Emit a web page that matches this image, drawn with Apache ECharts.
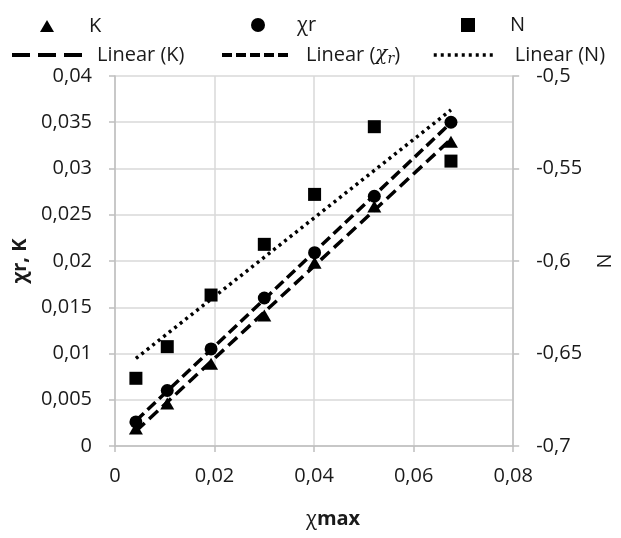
<!DOCTYPE html>
<html>
<head>
<meta charset="utf-8">
<script src="https://cdn.jsdelivr.net/npm/echarts@6/dist/echarts.min.js"></script>
<style>
html,body{margin:0;padding:0;background:#fff;}
#chart{width:621px;height:538px;}
</style>
</head>
<body>
<div id="chart"></div>
<script>
// ---- data ----
var chiMax = [0.0042, 0.0105, 0.0193, 0.0300, 0.0401, 0.0521, 0.0675];
var kValues = [0.0019, 0.0046, 0.0089, 0.0141, 0.0198, 0.0259, 0.0329];
var chiRValues = [0.0026, 0.0060, 0.0105, 0.0160, 0.0209, 0.0270, 0.0350];
var nValues = [-0.6634, -0.6463, -0.6184, -0.5910, -0.5640, -0.5274, -0.5460];
var xTicks = {min: 0, max: 0.08, interval: 0.02};
var leftTicks = {min: 0, max: 0.04, interval: 0.005};
var rightTicks = {min: -0.7, max: -0.5, interval: 0.05};

function pairs(xs, ys) { return xs.map(function (x, i) { return [x, ys[i]]; }); }
// least-squares linear trendline spanning the data range (like Excel "Linear" trendline)
function trend(xs, ys) {
  var n = xs.length, mx = 0, my = 0;
  for (var i = 0; i < n; i++) { mx += xs[i]; my += ys[i]; }
  mx /= n; my /= n;
  var sxy = 0, sxx = 0;
  for (var j = 0; j < n; j++) { sxy += (xs[j] - mx) * (ys[j] - my); sxx += (xs[j] - mx) * (xs[j] - mx); }
  var b = sxy / sxx, a = my - b * mx;
  var x0 = Math.min.apply(null, xs), x1 = Math.max.apply(null, xs);
  return [[x0, a + b * x0], [x1, a + b * x1]];
}
function fmt(v) { return String(parseFloat(Number(v).toFixed(4))).replace('.', ','); }

var FONT = 'Open Sans';
var TXT = '#1a1a1a';
var base = {fontFamily: FONT, fontSize: 20, color: TXT};

function legendItem(name, left, top, w, h, pad, extra) {
  var l = {
    data: [name], left: left, top: top, padding: 0, orient: 'horizontal',
    itemWidth: w, itemHeight: h, selectedMode: false,
    textStyle: Object.assign({}, base, {padding: [0, 0, 0, pad]})
  };
  return Object.assign(l, extra || {});
}
var hideSym = {color: 'rgba(0,0,0,0)', borderColor: 'rgba(0,0,0,0)', borderWidth: 0, opacity: 0};

var chart = echarts.init(document.getElementById('chart'), null, {renderer: 'canvas'});
chart.setOption({
  animation: false,
  backgroundColor: '#fff',
  textStyle: {fontFamily: FONT},
  title: {
    text: '{a|χ}{b|max}', left: 306, top: 509, padding: 0,
    textStyle: {fontWeight: 'normal', fontFamily: FONT, fontSize: 20, color: TXT, rich: {
      a: {fontFamily: FONT, fontSize: 20, fontWeight: 'normal', color: TXT},
      b: {fontFamily: FONT, fontSize: 20, fontWeight: 'bold', color: TXT}
    }}
  },
  legend: [
    legendItem('K', 40, 16, 14, 12, 30, {itemStyle: {color: '#000', opacity: 1}}),
    legendItem('χr', 251, 15, 14, 14, 27, {itemStyle: {color: '#000', opacity: 1}}),
    legendItem('N', 461, 15, 14, 14, 30, {itemStyle: {color: '#000', opacity: 1}}),
    legendItem('Linear (K)', 10, 45, 72, 4, 8, {itemStyle: hideSym, lineStyle: {width: 4, type: [18, 8], cap: 'butt', color: '#000'}}),
    legendItem('Linear (χr)', 220, 45, 67, 4, 12, {
      itemStyle: hideSym,
      lineStyle: {width: 4, type: [10, 4], cap: 'butt', color: '#000'},
      formatter: function () { return 'Linear ({it|χ}{sub|r})'; },
      textStyle: Object.assign({}, base, {padding: [0, 0, 0, 12], rich: {
        it: {fontFamily: 'DejaVu Serif', fontStyle: 'italic', fontSize: 20, color: TXT},
        sub: {fontFamily: 'DejaVu Serif', fontStyle: 'italic', fontSize: 14, color: TXT, verticalAlign: 'bottom', padding: [8, 0, 0, 0]}
      }})
    }),
    legendItem('Linear (N)', 432, 45, 60, 4, 16, {itemStyle: hideSym, lineStyle: {width: 3.5, type: [3, 4], cap: 'butt', color: '#000'}})
  ],
  grid: {left: 115, right: 86, top: 76, bottom: 92, containLabel: false},
  xAxis: {
    type: 'value', min: xTicks.min, max: xTicks.max, interval: xTicks.interval,
    axisLine: {show: true, lineStyle: {color: '#bfbfbf', width: 1.5}},
    axisTick: {show: true, length: 6, lineStyle: {color: '#bfbfbf', width: 1.5}},
    splitLine: {show: true, lineStyle: {color: '#d9d9d9', width: 1.5}},
    axisLabel: Object.assign({}, base, {margin: 20, formatter: fmt})
  },
  yAxis: [
    {
      type: 'value', min: leftTicks.min, max: leftTicks.max, interval: leftTicks.interval,
      position: 'left',
      name: 'χr, K', nameLocation: 'middle', nameGap: 70,
      nameTextStyle: Object.assign({}, base, {fontWeight: 'bold'}),
      axisLine: {show: true, onZero: false, lineStyle: {color: '#bfbfbf', width: 1.5}},
      axisTick: {show: true, length: 6, lineStyle: {color: '#bfbfbf', width: 1.5}},
      splitLine: {show: true, lineStyle: {color: '#d9d9d9', width: 1.5}},
      axisLabel: Object.assign({}, base, {margin: 23, formatter: fmt})
    },
    {
      type: 'value', min: rightTicks.min, max: rightTicks.max, interval: rightTicks.interval,
      position: 'right',
      name: 'N', nameLocation: 'middle', nameGap: 64, nameRotate: -90,
      nameTextStyle: Object.assign({}, base),
      axisLine: {show: true, onZero: false, lineStyle: {color: '#bfbfbf', width: 1.5}},
      axisTick: {show: true, length: 6, lineStyle: {color: '#bfbfbf', width: 1.5}},
      splitLine: {show: false},
      axisLabel: Object.assign({}, base, {margin: 23, formatter: fmt})
    }
  ],
  series: [
    {name: 'K', type: 'scatter', yAxisIndex: 0, symbol: 'triangle', symbolSize: [14, 12],
     itemStyle: {color: '#000', opacity: 1}, data: pairs(chiMax, kValues), z: 3},
    {name: 'χr', type: 'scatter', yAxisIndex: 0, symbol: 'circle', symbolSize: 13,
     itemStyle: {color: '#000', opacity: 1}, data: pairs(chiMax, chiRValues), z: 3},
    {name: 'N', type: 'scatter', yAxisIndex: 1, symbol: 'rect', symbolSize: 13,
     itemStyle: {color: '#000', opacity: 1}, data: pairs(chiMax, nValues), z: 3},
    {name: 'Linear (K)', type: 'line', yAxisIndex: 0, symbol: 'none', silent: true,
     lineStyle: {color: '#000', width: 3.5, type: [12, 6], cap: 'butt'}, itemStyle: {color: '#000'},
     data: trend(chiMax, kValues), z: 4},
    {name: 'Linear (χr)', type: 'line', yAxisIndex: 0, symbol: 'none', silent: true,
     lineStyle: {color: '#000', width: 3.5, type: [11, 5], cap: 'butt'}, itemStyle: {color: '#000'},
     data: trend(chiMax, chiRValues), z: 4},
    {name: 'Linear (N)', type: 'line', yAxisIndex: 1, symbol: 'none', silent: true,
     lineStyle: {color: '#000', width: 3.5, type: [3, 4], cap: 'butt'}, itemStyle: {color: '#000'},
     data: trend(chiMax, nValues), z: 4}
  ]
});
</script>
</body>
</html>
